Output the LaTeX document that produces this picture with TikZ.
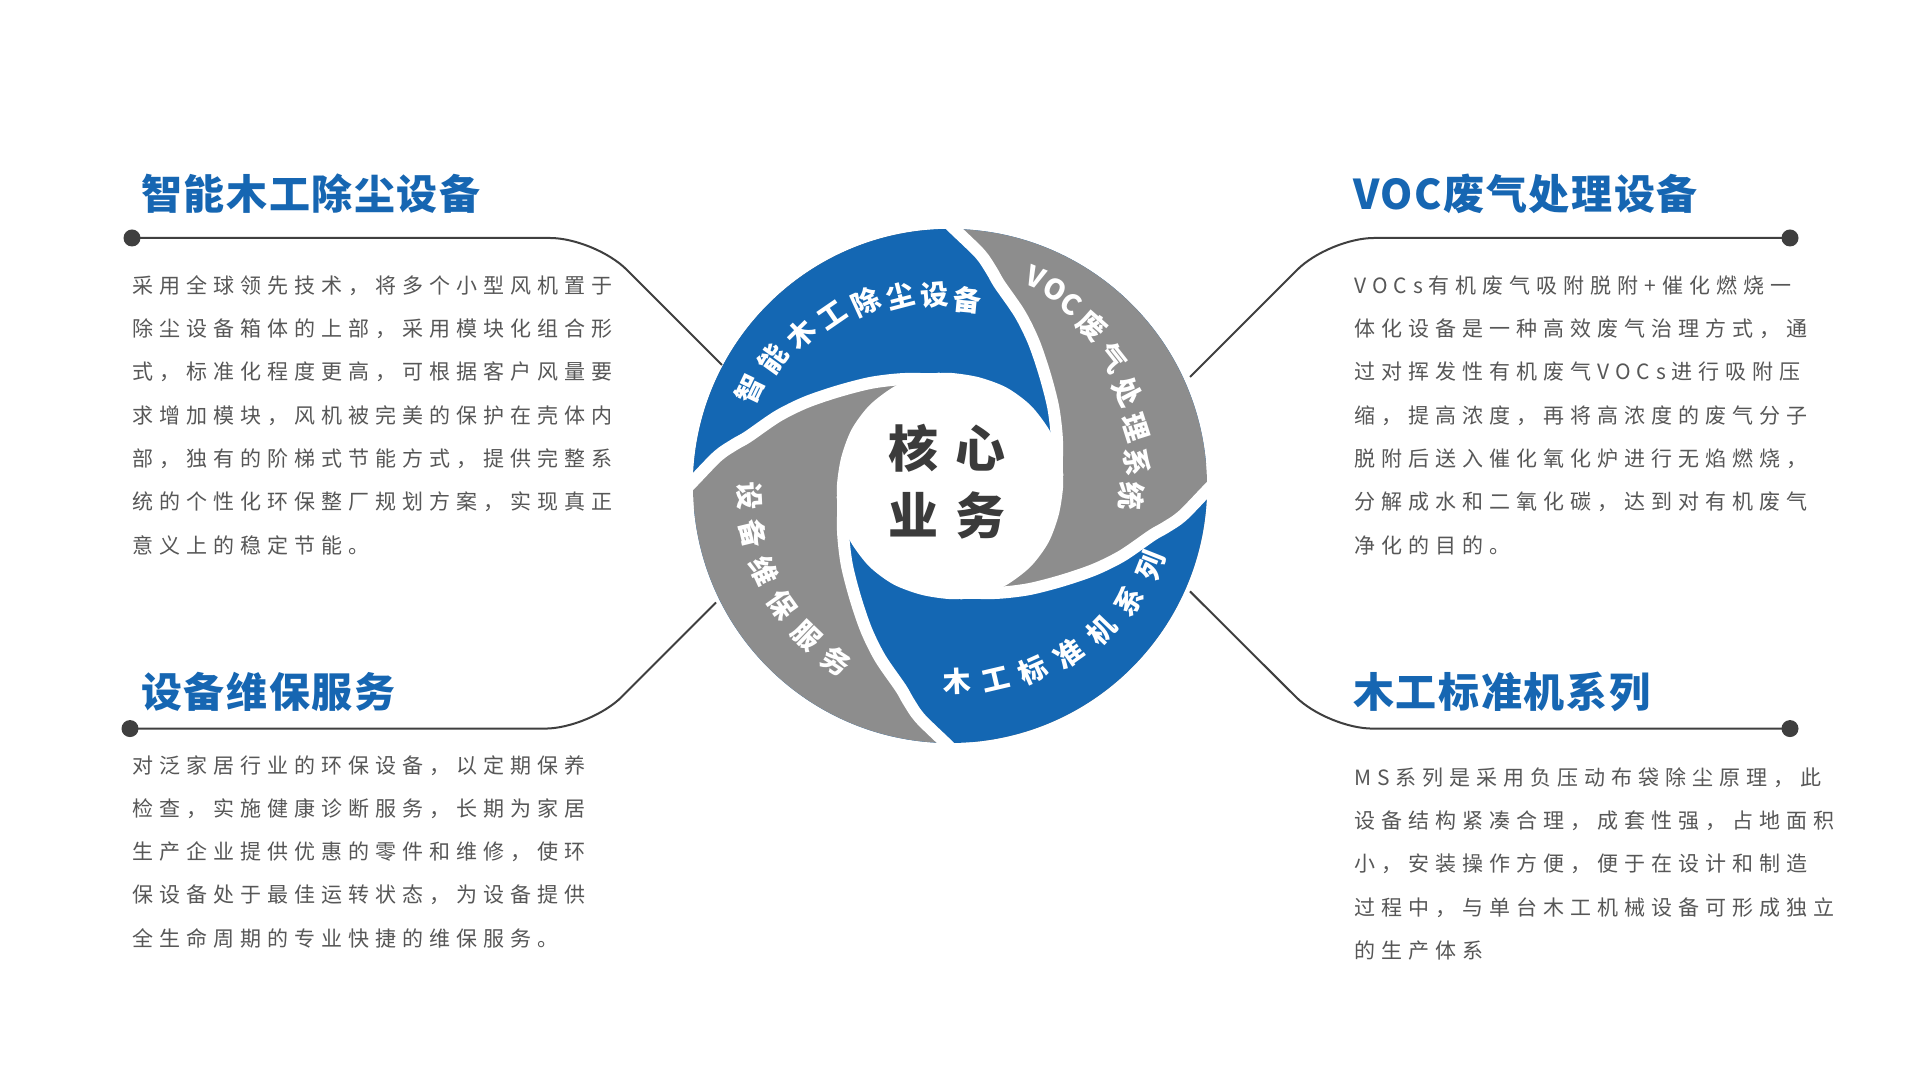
\documentclass[tikz,border=0pt]{standalone}
\usepackage{fontspec}
\newfontfamily\cjk{Noto Sans CJK SC}
\newfontfamily\cjkbody[LetterSpace=28.6]{Noto Sans CJK SC}
\newfontfamily\cjktitle[LetterSpace=4]{Noto Sans CJK SC}
\definecolor{bblue}{HTML}{1467B3}
\definecolor{bgray}{HTML}{8D8D8D}
\definecolor{tgray}{HTML}{575757}
\definecolor{lgray}{HTML}{3F3F3F}
\definecolor{cgray}{HTML}{3B3B3B}
\definecolor{tblue}{HTML}{1666B2}

\newcommand\bladefill[2]{%
  \begin{scope}[shift={(950,595)},rotate=#1]
    \fill[#2] plot[smooth] coordinates {(179:257) (172.6:234) (169:219) (166.3:208) (158:186) (150:167) (140:147) (127.5:130) (114:117) (98.6:108) (89:107) (75:106.5) (60:107.5) (45:108) (30:108) (18:108) (5:108)}
      -- (5:257) arc[start angle=5,end angle=179,radius=257] -- cycle;
  \end{scope}}
\newcommand\bladetop{%
  \begin{scope}[shift={(950,595)}]
    \fill[bblue] plot[smooth] coordinates {(179:257) (172.6:234) (169:219) (166.3:208) (158:186) (150:167) (140:147) (127.5:130) (114:117) (98.6:108) (89:107)}
      -- (89:257) arc[start angle=89,end angle=179,radius=257] -- cycle;
  \end{scope}}
\newcommand\gapline[1]{%
  \begin{scope}[shift={(950,595)},rotate=#1]
    \draw[white,line width=12pt] plot[smooth] coordinates {(181:266) (179:257) (172.6:234) (169:219) (166.3:208) (158:186) (150:167) (140:147) (127.5:130) (114:117) (98.6:108) (89:107) (75:106.5) (60:107.5) (45:108) (30:108) (18:108) (5:108)};
  \end{scope}}

\begin{document}
\begin{tikzpicture}[x=1pt,y=1pt,
  body/.style={font=\cjkbody\fontsize{21}{25}\selectfont, text=tgray, inner sep=0pt, anchor=base west},
  ttl/.style={font=\cjktitle\bfseries\fontsize{41}{45}\selectfont, text=tblue, inner sep=0pt, anchor=base west},
  bch/.style={font=\cjk\bfseries\fontsize{28}{30}\selectfont, text=white, inner sep=0pt},
  ctr/.style={font=\cjk\bfseries\fontsize{50}{55}\selectfont, text=cgray, inner sep=0pt},
  dotn/.style={circle, fill=lgray, inner sep=0pt, minimum size=17pt},
  conn/.style={draw=lgray, line width=2pt, rounded corners=45pt}]

\fill[white] (0,0) rectangle (1920,1081);
\useasboundingbox (0,0) rectangle (1920,1081);

% connectors
\node[dotn] (dTL) at (132,843) {};
\coordinate (kTL) at (595,843);
\coordinate (eTL) at (722,716);
\draw[conn] (dTL.center) -- (kTL) -- (eTL);

\node[dotn] (dTR) at (1790,843) {};
\coordinate (kTR) at (1329,843);
\coordinate (eTR) at (1190,704);
\draw[conn] (dTR.center) -- (kTR) -- (eTR);

\node[dotn] (dBL) at (130,352.4) {};
\coordinate (kBL) at (590,352.4);
\coordinate (eBL) at (716,478.5);
\draw[conn] (dBL.center) -- (kBL) -- (eBL);

\node[dotn] (dBR) at (1790,352.4) {};
\coordinate (kBR) at (1327.6,352.4);
\coordinate (eBR) at (1190,489.6);
\draw[conn] (dBR.center) -- (kBR) -- (eBR);

% blades
\bladefill{0}{bblue}
\bladefill{-90}{bgray}
\bladefill{-180}{bblue}
\bladefill{-270}{bgray}
\bladetop
\gapline{0}
\gapline{-90}
\gapline{-180}
\gapline{-270}

% blade labels
\begin{scope}[shift={(950,595)}]
\foreach \ch [count=\k from 0] in {智,能,木,工,除,尘,设,备}{
  \pgfmathsetmacro\ang{154.3-\k*9.943}
  \pgfmathsetmacro\rad{222.6-\k*5.114}
  \node[bch, rotate=\ang-90] (ba\k) at (\ang:\rad) {\ch};
}
\foreach \ch/\ang [count=\k] in {V/67.6, O/61.9, C/56.3, 废/48.6, 气/38.26, 处/27.92, 理/17.58, 系/7.24, 统/-3.1}{
  \pgfmathsetmacro\rad{181.7+(\ang+3.1)*0.627}
  \node[bch, rotate=\ang-90] (bb\k) at (\ang:\rad) {\ch};
}
\foreach \ch [count=\k from 0] in {木,工,标,准,机,系,列}{
  \pgfmathsetmacro\ang{-87.8+\k*11.033}
  \pgfmathsetmacro\rad{195+\k*3.5}
  \node[bch, rotate=\ang+90] (bc\k) at (\ang:\rad) {\ch};
}
\foreach \ch [count=\k from 0] in {设,备,维,保,服,务}{
  \pgfmathsetmacro\ang{182.8+\k*10.84}
  \pgfmathsetmacro\rad{200.8+\k*1.62}
  \node[bch, rotate=\ang+90] (bd\k) at (\ang:\rad) {\ch};
}
\end{scope}

% center
\node[ctr] (c1) at (913,633) {核};
\node[ctr] (c2) at (980,633) {心};
\node[ctr] (c3) at (913,566) {业};
\node[ctr] (c4) at (980,566) {务};

% titles
\node[ttl] (t1) at (141,871.9) {智能木工除尘设备};
\node[ttl] (t2) at (1353,871.9) {VOC废气处理设备};
\node[ttl] (t3) at (141,373.4) {设备维保服务};
\node[ttl] (t4) at (1353,373.4) {木工标准机系列};

% body texts
\foreach \ln [count=\i from 0] in {{采用全球领先技术，将多个小型风机置于},{除尘设备箱体的上部，采用模块化组合形},{式，标准化程度更高，可根据客户风量要},{求增加模块，风机被完美的保护在壳体内},{部，独有的阶梯式节能方式，提供完整系},{统的个性化环保整厂规划方案，实现真正},{意义上的稳定节能。}}{
  \node[body] (pa\i) at (132,787.7-\i*43.3) {\ln};
}
\foreach \ln [count=\i from 0] in {{VOCs有机废气吸附脱附+催化燃烧一},{体化设备是一种高效废气治理方式，通},{过对挥发性有机废气VOCs进行吸附压},{缩，提高浓度，再将高浓度的废气分子},{脱附后送入催化氧化炉进行无焰燃烧，},{分解成水和二氧化碳，达到对有机废气},{净化的目的。}}{
  \node[body] (pb\i) at (1354,787.7-\i*43.3) {\ln};
}
\foreach \ln [count=\i from 0] in {{对泛家居行业的环保设备，以定期保养},{检查，实施健康诊断服务，长期为家居},{生产企业提供优惠的零件和维修，使环},{保设备处于最佳运转状态，为设备提供},{全生命周期的专业快捷的维保服务。}}{
  \node[body] (pc\i) at (132,307.7-\i*43.2) {\ln};
}
\foreach \ln [count=\i from 0] in {{MS系列是采用负压动布袋除尘原理，此},{设备结构紧凑合理，成套性强，占地面积},{小，安装操作方便，便于在设计和制造},{过程中，与单台木工机械设备可形成独立},{的生产体系}}{
  \node[body] (pd\i) at (1354,295.5-\i*43.2) {\ln};
}
\end{tikzpicture}
\end{document}
